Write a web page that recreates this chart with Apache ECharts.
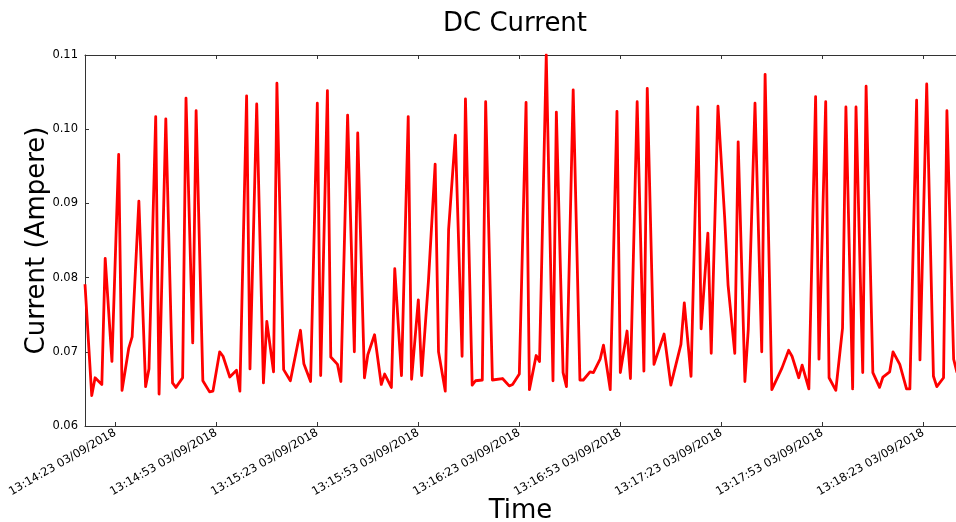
<!DOCTYPE html>
<html>
<head>
<meta charset="utf-8">
<script src="https://cdn.jsdelivr.net/npm/echarts@6/dist/echarts.min.js"></script>
<style>html,body{margin:0;padding:0;background:#fff;}#c{width:956px;height:522px;}</style>
</head>
<body>
<div id="c"></div>
<script>
// seconds after 13:14:14 03/09/2018
const seconds = [0,2,3,5,6,8,10,11,13,14, 16,18,19,21,22,24,26,27,29,30, 32,33,35,37,38,40,41,43,45,46,
  48,49,51,53,54,56,57,59,61,64, 65,67,69,70,72,73,75,76,78,80, 81,83,84,86,88,89,91,92,94,96,
  97,99,100,102,104,105,107,108,110,112, 113,115,116,118,119,121,124,126,127,129,
  131,132,134,135,137,139,140,142,143,145, 147,148,150,151,153,154,156,158,159,161,
  162,164,166,167,169,172,174,177,178,180, 182,183,185,186,188,190,191,193,194,196,
  197,199,201,202,204,207,209,210,212,213, 215,217,218,220,221,223,225,226,228,229,
  231,232,234,236,237,239,240,242,244,245, 247,248,250,252,253,255,256,258,259];
const current = [0.0791,0.0641,0.0665,0.0656,0.0826,0.0687,0.0966,0.0648,0.0705,0.0720,
  0.0903,0.0653,0.0677,0.1017,0.0643,0.1014,0.0658,0.0652,0.0665,0.1042,
  0.0712,0.1025,0.0661,0.0646,0.0647,0.0700,0.0694,0.0666,0.0675,0.0647,
  0.1045,0.0677,0.1034,0.0658,0.0741,0.0673,0.1062,0.0676,0.0661,0.0729,
  0.0684,0.0660,0.1035,0.0668,0.1052,0.0693,0.0683,0.0660,0.1019,0.0700,
  0.0995,0.0665,0.0696,0.0723,0.0656,0.0670,0.0652,0.0812,0.0668,0.1017,
  0.0663,0.0770,0.0668,0.0795,0.0953,0.0700,0.0647,0.0865,0.0992,0.0694,
  0.1041,0.0655,0.0661,0.0662,0.1037,0.0662,0.0664,0.0654,0.0656,0.0670,
  0.1036,0.0649,0.0695,0.0687,0.1100,0.0661,0.1023,0.0672,0.0653,0.1053,
  0.0662,0.0662,0.0673,0.0672,0.0690,0.0709,0.0649,0.1024,0.0672,0.0728,
  0.0664,0.1037,0.0674,0.1055,0.0683,0.0724,0.0655,0.0710,0.0766,0.0667,
  0.1030,0.0731,0.0860,0.0698,0.1031,0.0880,0.0790,0.0698,0.0983,0.0660,
  0.0730,0.1035,0.0700,0.1074,0.0649,0.0678,0.0702,0.0694,0.0665,0.0682,
  0.0650,0.1044,0.0690,0.1037,0.0665,0.0648,0.0732,0.1030,0.0650,0.1030,
  0.0672,0.1058,0.0672,0.0652,0.0666,0.0673,0.0700,0.0683,0.0650,0.0650,
  0.1039,0.0689,0.1061,0.0667,0.0653,0.0665,0.1025,0.0690,0.0672];
const tickSeconds = [9,39,69,99,129,159,189,219,249];
const tickLabels = ['13:14:23 03/09/2018','13:14:53 03/09/2018','13:15:23 03/09/2018',
  '13:15:53 03/09/2018','13:16:23 03/09/2018','13:16:53 03/09/2018','13:17:23 03/09/2018',
  '13:17:53 03/09/2018','13:18:23 03/09/2018'];
const yMin = 0.06, yMax = 0.11, yStep = 0.01;
const xMin = 0, xMax = 258.7;

const FONT = 'DejaVu Sans';
const chart = echarts.init(document.getElementById('c'), null, {renderer: 'canvas'});
const pts = seconds.map((s, i) => [s, current[i]]);
const axisColor = '#333';
chart.setOption({
  animation: false,
  backgroundColor: '#fff',
  title: {
    text: 'DC Current', left: 510, top: 6, textAlign: 'center',
    textStyle: {fontFamily: FONT, fontSize: 26, fontWeight: 'normal', color: '#000'}
  },
  grid: {left: 85, right: 0, top: 55, bottom: 96, containLabel: false, outerBoundsMode: 'none'},
  xAxis: [{
    type: 'value', min: xMin, max: xMax, position: 'bottom',
    name: 'Time', nameLocation: 'middle', nameGap: 72, nameMoveOverlap: false,
    nameTextStyle: {fontFamily: FONT, fontSize: 26, color: '#000'},
    axisLine: {show: true, onZero: false, lineStyle: {color: axisColor, width: 1}},
    axisTick: {show: true, inside: true, length: 4, customValues: tickSeconds, lineStyle: {color: axisColor}},
    axisLabel: {
      show: true, rotate: 30, margin: 6, customValues: tickSeconds,
      fontFamily: FONT, fontSize: 11.5, color: '#000',
      formatter: v => { const i = tickSeconds.indexOf(Math.round(v)); return i >= 0 ? tickLabels[i] : ''; }
    },
    splitLine: {show: false}
  }, {
    type: 'value', min: xMin, max: xMax, position: 'top',
    axisLine: {show: true, onZero: false, lineStyle: {color: axisColor, width: 1}},
    axisTick: {show: true, inside: true, length: 4, customValues: tickSeconds, lineStyle: {color: axisColor}},
    axisLabel: {show: false},
    splitLine: {show: false}
  }],
  yAxis: [{
    type: 'value', min: yMin, max: yMax, interval: yStep,
    name: 'Current (Ampere)', nameLocation: 'middle', nameGap: 35, nameMoveOverlap: false,
    nameTextStyle: {fontFamily: FONT, fontSize: 26, color: '#000'},
    axisLine: {show: true, onZero: false, lineStyle: {color: axisColor, width: 1}},
    axisTick: {show: true, inside: true, length: 4, lineStyle: {color: axisColor}},
    axisLabel: {margin: 7, fontFamily: FONT, fontSize: 11.5, color: '#000', formatter: v => v.toFixed(2)},
    splitLine: {show: false}
  }],
  series: [{
    type: 'line', data: pts, xAxisIndex: 0, yAxisIndex: 0,
    showSymbol: false, symbol: 'none',
    lineStyle: {color: '#ff0000', width: 2.8, join: 'round'},
    clip: true
  }]
});
</script>
</body>
</html>
